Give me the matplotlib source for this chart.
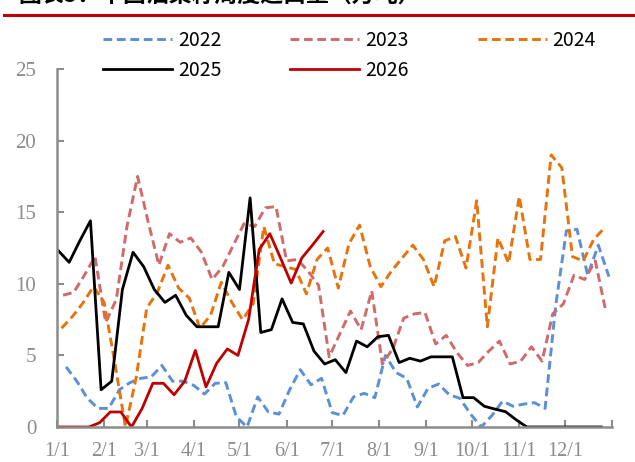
import pandas as pd
import matplotlib
matplotlib.use('Agg')
import matplotlib.pyplot as plt
from matplotlib.lines import Line2D

# weekly rapeseed imports, 10k tonnes
v2022 = [4.2, 3.2, 2.0, 1.3, 1.3, 2.6, 3.1, 3.4, 3.5, 4.3, 3.2, 3.2, 2.9, 2.3, 3.05, 3.1,
         0.7, 0.0, 2.1, 1.05, 0.9, 2.6, 4.0, 2.95, 3.4, 1.0, 0.8, 2.1, 2.35, 2.05, 5.0, 3.8,
         3.4, 1.4, 2.7, 3.0, 2.25, 2.0, 0.9, 0.0, 0.8, 1.8, 1.45, 1.6, 1.7, 1.3, 8.5, 13.7,
         13.8, 10.6, 12.7, 10.5]
v2023 = [9.2, 9.4, 10.6, 11.9, 7.3, 8.9, 14.0, 17.5, 14.3, 11.3, 13.5, 12.9, 13.2, 12.2, 10.3, 11.2,
         12.7, 14.2, 14.0, 15.3, 15.4, 11.6, 11.7, 10.9, 9.9, 4.9, 6.5, 8.1, 6.8, 9.5, 4.4, 5.5,
         7.6, 7.9, 8.0, 5.8, 6.4, 5.2, 4.3, 4.5, 5.3, 6.0, 4.4, 4.6, 5.6, 4.6, 7.9, 8.6,
         10.6, 10.3, 11.6, 8.05]
v2024 = [6.9, 7.7, 8.65, 9.8, 8.7, 4.5, 0.0, 3.4, 8.3, 9.4, 11.3, 9.7, 9.0, 6.9, 7.8, 10.1,
         8.7, 7.5, 8.6, 14.0, 11.4, 11.2, 11.0, 9.3, 11.7, 12.5, 9.7, 12.8, 14.1, 11.2, 9.8, 10.9,
         11.8, 12.7, 11.7, 9.8, 13.0, 13.3, 11.1, 15.8, 7.0, 13.2, 11.45, 16.1, 11.7, 11.7, 19.0, 18.1,
         11.9, 11.6, 13.1, 13.9]
v2025 = [12.3, 11.5, 13.0, 14.4, 2.6, 3.2, 9.6, 12.2, 11.2, 9.6, 8.7, 9.2, 7.8, 7.0, 7.0, 7.0,
         10.8, 9.6, 16.0, 6.6, 6.8, 8.95, 7.3, 7.2, 5.3, 4.4, 4.7, 3.8, 6.0, 5.6, 6.3, 6.4,
         4.5, 4.8, 4.6, 4.9, 4.9, 4.9, 2.05, 2.05, 1.45, 1.25, 1.07, 0.5, 0.0, 0.0, 0.0, 0.0,
         0.0, 0.0, 0.0, 0.0]
v2026 = [0.0, 0.0, 0.0, 0.0, 0.3, 1.05, 1.05, 0.0, 1.3, 3.05, 3.05, 2.25, 3.2, 5.35, 2.8, 4.45,
         5.45, 5.0, 7.5, 12.4, 13.5, 11.8, 10.05, 11.8, 12.7, 13.65]

first_week = {'2022': '2022-01-07', '2023': '2023-01-05', '2024': '2024-01-04',
              '2025': '2025-01-02', '2026': '2026-01-01'}
month_days = [0, 31, 59, 90, 120, 151, 181, 212, 243, 273, 304, 334]
month_labels = ['1/1', '2/1', '3/1', '4/1', '5/1', '6/1', '7/1', '8/1', '9/1', '10/1', '11/1', '12/1']

series = [
    ('2022', v2022, '#5B8FD6', 'dash'),
    ('2023', v2023, '#CF6B69', 'dash'),
    ('2024', v2024, '#E8720C', 'dash'),
    ('2025', v2025, '#000000', 'solid'),
    ('2026', v2026, '#C00000', 'solid'),
]

fig = plt.figure(figsize=(6.35, 4.62), dpi=100)
ax = fig.add_axes([57 / 635, 35 / 462, 555 / 635, 358 / 462])

handles = {}
for name, vals, color, style in series:
    dates = pd.date_range(first_week[name], periods=len(vals), freq='7D')
    x = dates.dayofyear - 1
    if style == 'dash':
        ln, = ax.plot(x, vals, color=color, lw=2.1, dashes=(3, 1.6), dash_capstyle='butt')
    else:
        ln, = ax.plot(x, vals, color=color, lw=2.0)
    handles[name] = ln

ax.set_xlim(0, 365)
ax.set_ylim(0, 25)
ax.set_yticks([0, 5, 10, 15, 20, 25])
ax.set_xticks(month_days + [365])
ax.set_xticklabels(month_labels + [''])

for s in ['top', 'right']:
    ax.spines[s].set_visible(False)
for s in ['left', 'bottom']:
    ax.spines[s].set_color('#8C8C8C')
    ax.spines[s].set_linewidth(1.8)
ax.tick_params(axis='both', direction='in', length=5, width=1.5, color='#8C8C8C',
               labelcolor='#8C8C8C', labelsize=15)
ax.tick_params(axis='y', pad=15)
ax.tick_params(axis='x', pad=11, labelsize=14.5)
for lab in ax.get_xticklabels() + ax.get_yticklabels():
    lab.set_family('Liberation Serif')

order = ['2022', '2025', '2023', '2026', '2024']
leg = ax.legend([handles[k] for k in order], order, ncol=3, frameon=False,
                loc='upper left', bbox_to_anchor=(103 / 635, 1 - 30 / 462),
                bbox_transform=fig.transFigure, borderpad=0, borderaxespad=0,
                handlelength=3.55, handletextpad=0.3, columnspacing=3.55,
                labelspacing=0.45, prop={'family': 'Noto Sans CJK SC', 'size': 14})

# header strip: title sits mostly above the canvas, red rule underneath
fig.text(18 / 635, 1 - 8 / 462, '图表5：中国油菜籽周度进口量（万吨）', fontsize=16.5,
         fontweight='bold', family=['Noto Sans CJK SC', 'DejaVu Sans'], va='bottom', ha='left')
fig.add_artist(Line2D([4 / 635, 1], [1 - 15 / 462, 1 - 15 / 462], color='#C00000', lw=2.2,
                      transform=fig.transFigure))

fig.savefig('out.png', dpi=100)
